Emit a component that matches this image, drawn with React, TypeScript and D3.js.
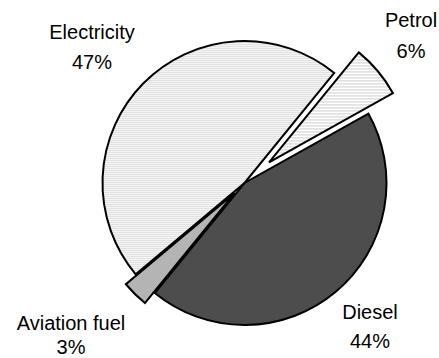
import React from "react";
import * as d3 from "d3";

// Energy use by fuel type, percent share
const categories = ["Electricity", "Petrol", "Diesel", "Aviation fuel"];
const shares = [47, 6, 44, 3];

const WIDTH = 439;
const HEIGHT = 358;
const CX = 244.5;
const CY = 183;
const R = 142;
const START = (230 * Math.PI) / 180;

// Slice styling, in category order
const fills = ["url(#hatchFine)", "url(#hatchWide)", "#4d4d4d", "#b4b4b4"];
const explodeBy = [0, 32, 0, 14];
// Label placement relative to the pie centre: [dx, first-line baseline dy, line gap]
const labelPlace: [number, number, number][] = [
  [-152.5, -144.5, 30.5],
  [166.5, -156, 31],
  [125.5, 136, 29],
  [-173.5, 147, 24],
];

const FONT = "'Liberation Sans', Arial, sans-serif";
const FONT_SIZE = 20;

export default function App() {
  const pie = d3
    .pie<number>()
    .sort(null)
    .value((d) => d)
    .startAngle(START)
    .endAngle(START + 2 * Math.PI);
  const arcs = pie(shares);
  const arc = d3.arc<d3.PieArcDatum<number>>().innerRadius(0).outerRadius(R);

  return (
    <svg
      width={WIDTH}
      height={HEIGHT}
      style={{ position: "absolute", left: 0, top: 0, background: "#fff" }}
    >
      <defs>
        <pattern id="hatchFine" width={4} height={2} patternUnits="userSpaceOnUse">
          <rect width={4} height={2} fill="#f4f4f4" />
          <rect y={1} width={4} height={1} fill="#e2e2e2" />
        </pattern>
        <pattern id="hatchWide" width={4} height={3} patternUnits="userSpaceOnUse">
          <rect width={4} height={3} fill="#ffffff" />
          <rect y={2} width={4} height={1} fill="#cccccc" />
        </pattern>
      </defs>
      <g transform={`translate(${CX},${CY})`}>
        {arcs.map((a, i) => {
          const mid = (a.startAngle + a.endAngle) / 2;
          const off = explodeBy[i];
          const tx = Math.sin(mid) * off;
          const ty = -Math.cos(mid) * off;
          return (
            <path
              key={categories[i]}
              d={arc(a) || ""}
              transform={`translate(${tx},${ty})`}
              fill={fills[i]}
              stroke="#000"
              strokeWidth={2}
              strokeLinejoin="miter"
            />
          );
        })}
        {arcs.map((a, i) => {
          const [lx, b1, gap] = labelPlace[i];
          return (
            <text
              key={`lbl-${categories[i]}`}
              textAnchor="middle"
              fontFamily={FONT}
              fontSize={FONT_SIZE}
              fill="#000"
            >
              <tspan x={lx} y={b1}>
                {categories[i]}
              </tspan>
              <tspan x={lx} y={b1 + gap}>
                {`${a.data}%`}
              </tspan>
            </text>
          );
        })}
      </g>
    </svg>
  );
}
